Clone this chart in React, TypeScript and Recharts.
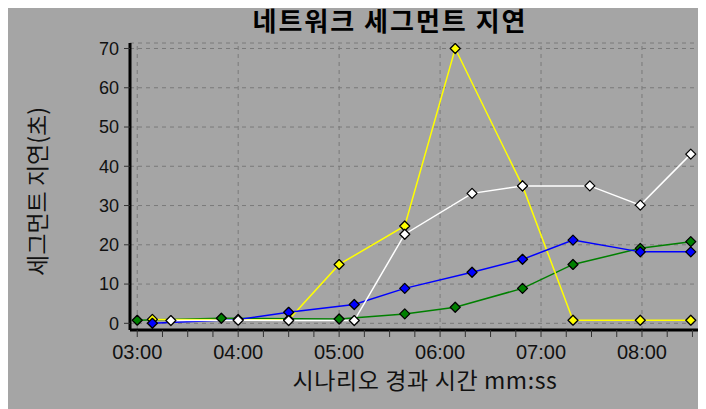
import { LineChart, Line, XAxis, YAxis, CartesianGrid, ReferenceLine, Label } from "recharts";

// time in seconds from scenario start, value in seconds of delay
const greenTimes = [180, 230, 300, 339, 369, 409, 439, 479, 509];
const greenValues = [0.8, 1.3, 1.1, 2.4, 4.1, 8.9, 15.0, 19.1, 20.8];

const yellowTimes = [189, 270, 300, 339, 369, 409, 439, 479, 509];
const yellowValues = [1.0, 0.9, 15.0, 24.8, 70.0, 35.0, 0.8, 0.8, 0.8];

const blueTimes = [189, 240, 270, 309, 339, 379, 409, 439, 479, 509];
const blueValues = [0, 1.0, 2.8, 4.8, 8.9, 13.0, 16.3, 21.2, 18.2, 18.2];

const whiteTimes = [200, 240, 270, 309, 339, 379, 409, 449, 479, 509];
const whiteValues = [0.7, 0.8, 0.7, 0.7, 22.7, 33.1, 35.0, 35.0, 30.1, 43.1];

const xTicks = [180, 195, 210, 225, 240, 255, 270, 285, 300, 315, 330, 345, 360, 375, 390, 405, 420, 435, 450, 465, 480, 495, 510];
const minuteLines = [180, 240, 300, 360, 420, 480];
const yTicks = [0, 10, 20, 30, 40, 50, 60, 70];

const xDomain = [175.7, 513.3];
const yDomain = [-1.7, 71.4];

const toRows = (times: number[], values: number[]) => times.map((t, i) => ({ t, v: values[i] }));

const series = [
  { name: "green", color: "#008000", rows: toRows(greenTimes, greenValues) },
  { name: "yellow", color: "#ffff00", rows: toRows(yellowTimes, yellowValues) },
  { name: "blue", color: "#0000ff", rows: toRows(blueTimes, blueValues) },
  { name: "white", color: "#ffffff", rows: toRows(whiteTimes, whiteValues) },
];

const KR = '"Noto Sans CJK KR", "Noto Sans", sans-serif';
const NUM = '"Liberation Sans", Arial, sans-serif';
const GRID = "#7a7a7a";

const mmss = (t: number) =>
  `${String(Math.floor(t / 60)).padStart(2, "0")}:${String(t % 60).padStart(2, "0")}`;

const diamond = (color: string) => (props: any) => {
  const { cx, cy, index } = props;
  if (cx == null || cy == null) return <g key={index} />;
  const r = 5;
  return (
    <polygon
      key={index}
      points={`${cx},${cy - r} ${cx + r},${cy} ${cx},${cy + r} ${cx - r},${cy}`}
      fill={color}
      stroke="#000"
      strokeWidth={1.3}
      strokeLinejoin="round"
    />
  );
};

const XTick = (props: any) => {
  const { x, y, payload } = props;
  const t = payload.value;
  if (t % 60 !== 0) return <g />;
  return (
    <text x={x} y={y} dy={22} textAnchor="middle" fontSize={20} fontFamily={NUM} fill="#111">
      {mmss(t)}
    </text>
  );
};

const XTitle = (props: any) => {
  const { viewBox } = props;
  const cx = viewBox.x + viewBox.width / 2 + 11;
  const cy = viewBox.y + 49;
  return (
    <text
      x={cx}
      y={cy}
      textAnchor="middle"
      dominantBaseline="central"
      fontSize={23}
      letterSpacing={0.6}
      fontFamily={KR}
      fill="#111"
    >
      시나리오 경과 시간 mm:ss
    </text>
  );
};

const YTitle = (props: any) => {
  const { viewBox } = props;
  const cx = viewBox.x + 28;
  const cy = viewBox.y + viewBox.height / 2 + 5;
  return (
    <text
      x={cx}
      y={cy}
      transform={`rotate(-90 ${cx} ${cy})`}
      textAnchor="middle"
      dominantBaseline="central"
      fontSize={23}
      fontFamily={KR}
      fill="#111"
    >
      세그먼트 지연(초)
    </text>
  );
};

const App = () => {
  return (
    <div style={{ position: "relative", width: 698, height: 401, background: "#a5a5a5" }}>
      <LineChart width={698} height={401} margin={{ top: 35, right: 8, bottom: 0, left: 0 }}>
        <CartesianGrid xAxisId="main" yAxisId="main" vertical={false} stroke={GRID} strokeDasharray="4 4" />
        {minuteLines.map((m) => (
          <ReferenceLine key={m} x={m} xAxisId="main" yAxisId="main" stroke={GRID} strokeDasharray="4 4" />
        ))}
        <XAxis
          xAxisId="main"
          type="number"
          dataKey="t"
          domain={xDomain}
          allowDataOverflow
          ticks={xTicks}
          interval={0}
          height={79}
          tickSize={7}
          tickMargin={0}
          tick={XTick}
          tickLine={{ stroke: "#333" }}
          axisLine={{ stroke: "#000", strokeWidth: 3 }}
        >
          <Label content={XTitle} />
        </XAxis>
        <XAxis
          xAxisId="top"
          orientation="top"
          type="number"
          domain={xDomain}
          allowDataOverflow
          height={0}
          tick={false}
          tickLine={false}
          axisLine={{ stroke: "#000", strokeWidth: 2 }}
        />
        <YAxis
          yAxisId="main"
          type="number"
          domain={yDomain}
          allowDataOverflow
          ticks={yTicks}
          interval={0}
          width={122}
          tickSize={6}
          tickMargin={5}
          tick={{ fontSize: 18, fontFamily: NUM, fill: "#111" }}
          tickLine={{ stroke: "#333" }}
          axisLine={{ stroke: "#000", strokeWidth: 3 }}
        >
          <Label content={YTitle} />
        </YAxis>
        <YAxis
          yAxisId="right"
          orientation="right"
          type="number"
          domain={yDomain}
          allowDataOverflow
          width={0}
          tick={false}
          tickLine={false}
          axisLine={{ stroke: "#000", strokeWidth: 2 }}
        />
        {series.map((s) => (
          <Line
            key={s.name}
            xAxisId="main"
            yAxisId="main"
            data={s.rows}
            dataKey="v"
            type="linear"
            stroke={s.color}
            strokeWidth={1.5}
            dot={diamond(s.color)}
            activeDot={false}
            isAnimationActive={false}
          />
        ))}
      </LineChart>
      <svg width={698} height={50} style={{ position: "absolute", left: 0, top: -8, pointerEvents: "none" }}>
        <text
          x={382}
          y={31}
          textAnchor="middle"
          fontSize={26}
          letterSpacing={2}
          fontWeight="bold"
          fontFamily={KR}
          fill="#000"
        >
          네트워크 세그먼트 지연
        </text>
      </svg>
    </div>
  );
};

export default App;
